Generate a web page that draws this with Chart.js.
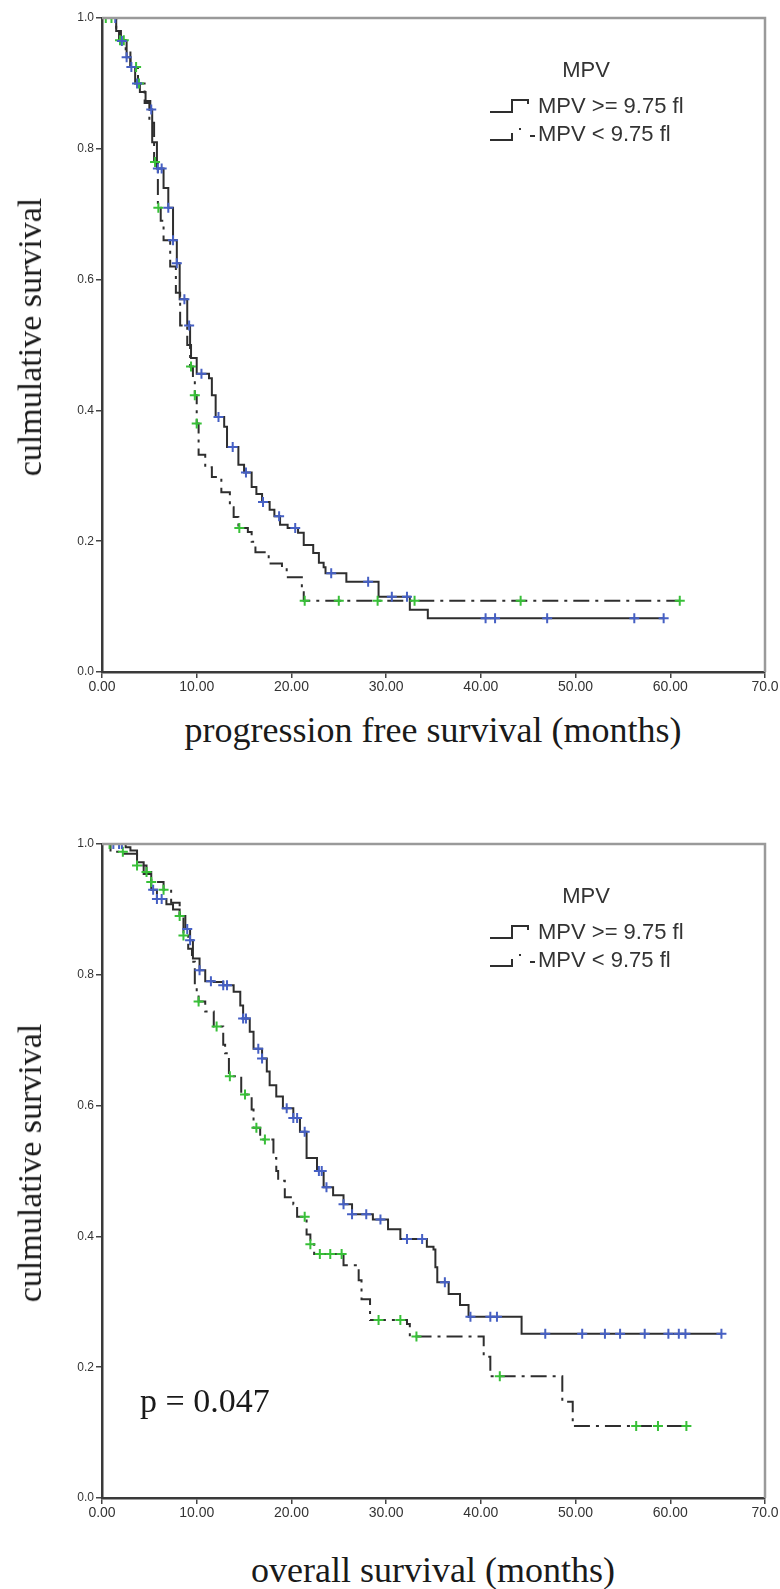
<!DOCTYPE html>
<html>
<head>
<meta charset="utf-8">
<script src="https://cdn.jsdelivr.net/npm/chart.js@4.4.1/dist/chart.umd.min.js"></script>
<style>
html, body { margin: 0; padding: 0; background: #fff; }
body { width: 780px; height: 1589px; position: relative; overflow: hidden; }
canvas { position: absolute; left: 0; }
.lbl { position: absolute; font-family: "Liberation Serif", "Times New Roman", serif; color: #1a1a1a; white-space: nowrap; line-height: 1; }
.ytitle { transform: translate(-50%, -50%) rotate(-90deg); }
.xtitle { transform: translate(-50%, -50%); }
</style>
</head>
<body>
<canvas id="pfs" width="780" height="700" style="top:0"></canvas>
<canvas id="os" width="780" height="700" style="top:826px"></canvas>

<div class="lbl ytitle" style="left:30px; top:337px; font-size:34px;">culmulative survival</div>
<div class="lbl xtitle" style="left:433px; top:730px; font-size:36px;">progression free survival (months)</div>
<div class="lbl ytitle" style="left:30px; top:1163px; font-size:34px;">culmulative survival</div>
<div class="lbl xtitle" style="left:433px; top:1570px; font-size:36px;">overall survival (months)</div>
<div class="lbl" id="pval" style="left:140px; top:1384px; font-size:34px;">p = 0.047</div>

<script>
// --- ticks / labels ---
const xTickLabels = ['0.00', '10.00', '20.00', '30.00', '40.00', '50.00', '60.00', '70.0'];
const yTickLabels = ['0.0', '0.2', '0.4', '0.6', '0.8', '1.0'];
const legendTitle = 'MPV';
const legendLabels = ['MPV >= 9.75 fl', 'MPV < 9.75 fl'];

// --- progression free survival ---
// MPV >= 9.75 fl
const pfsHighTime = [0, 1.5, 2.0, 2.6, 3.0, 3.5, 4.0, 4.6, 5.1, 5.3, 5.8, 6.5, 7.0, 7.5, 7.9, 8.2, 9.0, 9.3, 9.4, 10.0, 11.3, 11.6, 12.0, 12.9, 13.2, 14.4, 15.0, 15.8, 16.3, 16.9, 17.7, 18.2, 18.8, 19.6, 20.7, 21.3, 22.3, 22.9, 23.4, 23.6, 25.8, 29.2, 32.5, 34.4, 59.3];
const pfsHighSurv = [1.0, 0.98, 0.965, 0.94, 0.925, 0.90, 0.887, 0.873, 0.86, 0.81, 0.77, 0.74, 0.71, 0.66, 0.625, 0.57, 0.53, 0.50, 0.48, 0.456, 0.449, 0.423, 0.39, 0.375, 0.344, 0.317, 0.305, 0.283, 0.272, 0.26, 0.248, 0.238, 0.225, 0.22, 0.213, 0.194, 0.182, 0.167, 0.16, 0.151, 0.138, 0.115, 0.095, 0.082, 0.082];
const pfsHighCensor = [1.4, 2.1, 2.6, 3.1, 3.7, 5.2, 5.9, 6.3, 7.0, 7.5, 7.9, 8.7, 9.2, 10.5, 12.3, 13.8, 15.2, 17.0, 18.7, 20.4, 24.2, 28.1, 30.6, 32.2, 40.5, 41.5, 47.0, 56.2, 59.3];
// MPV < 9.75 fl
const pfsLowTime = [0, 1.5, 1.8, 2.5, 3.0, 3.8, 4.5, 5.0, 5.5, 5.9, 6.2, 6.5, 7.2, 7.8, 8.25, 9.0, 9.3, 9.6, 9.8, 10.0, 10.2, 10.9, 11.6, 12.6, 13.5, 13.9, 14.4, 15.4, 15.8, 16.2, 17.6, 19.0, 19.5, 21.1, 21.3, 61.0];
const pfsLowSurv = [1.0, 0.983, 0.966, 0.95, 0.925, 0.90, 0.87, 0.84, 0.78, 0.71, 0.69, 0.66, 0.62, 0.58, 0.53, 0.50, 0.467, 0.45, 0.423, 0.38, 0.332, 0.313, 0.298, 0.275, 0.252, 0.237, 0.22, 0.214, 0.199, 0.183, 0.166, 0.159, 0.145, 0.122, 0.109, 0.109];
const pfsLowCensor = [0.4, 1.0, 1.9, 2.3, 3.6, 3.9, 5.6, 5.95, 9.4, 9.8, 10.0, 14.5, 21.4, 25.0, 29.1, 33.0, 44.2, 61.0];

// --- overall survival ---
const osHighTime = [0, 2.5, 3.0, 3.7, 4.4, 5.2, 5.8, 6.8, 7.5, 8.2, 8.8, 9.3, 9.6, 10.3, 10.9, 11.8, 12.8, 13.9, 14.6, 14.9, 15.6, 16.0, 16.9, 17.4, 17.7, 18.4, 19.1, 20.2, 20.9, 21.6, 22.7, 23.4, 24.4, 25.5, 26.4, 28.6, 30.2, 31.5, 34.3, 35.0, 35.2, 35.4, 36.6, 37.8, 38.7, 44.3, 65.4];
const osHighSurv = [1.0, 0.995, 0.99, 0.972, 0.954, 0.93, 0.916, 0.908, 0.90, 0.89, 0.87, 0.853, 0.825, 0.807, 0.79, 0.789, 0.784, 0.774, 0.753, 0.733, 0.713, 0.687, 0.672, 0.652, 0.631, 0.614, 0.596, 0.581, 0.56, 0.52, 0.50, 0.475, 0.463, 0.449, 0.434, 0.426, 0.411, 0.396, 0.384, 0.38, 0.353, 0.33, 0.312, 0.295, 0.277, 0.251, 0.251];
const osHighCensor = [1.2, 1.8, 2.1, 5.4, 5.8, 6.3, 9.0, 9.3, 10.3, 11.5, 12.8, 13.2, 14.9, 15.2, 16.5, 16.9, 19.5, 20.2, 20.6, 21.4, 22.9, 23.2, 23.7, 25.5, 26.4, 27.9, 29.4, 32.2, 33.8, 36.2, 38.9, 41.0, 41.7, 46.8, 50.7, 53.1, 54.7, 57.3, 59.8, 60.9, 61.6, 65.4];
const osLowTime = [0, 0.9, 2.3, 3.7, 4.7, 5.2, 6.5, 7.3, 8.2, 8.6, 9.1, 9.5, 9.8, 10.0, 10.2, 10.9, 11.8, 12.8, 13.0, 13.4, 14.7, 15.8, 16.0, 16.7, 18.1, 18.4, 18.6, 19.3, 20.2, 20.6, 21.6, 22.0, 22.4, 25.5, 27.1, 27.4, 28.3, 32.2, 32.5, 40.3, 41.0, 48.6, 49.7, 61.7];
const osLowSurv = [1.0, 0.988, 0.985, 0.967, 0.957, 0.942, 0.93, 0.91, 0.89, 0.86, 0.84, 0.82, 0.784, 0.774, 0.759, 0.744, 0.721, 0.693, 0.68, 0.645, 0.617, 0.594, 0.566, 0.548, 0.52, 0.50, 0.485, 0.46, 0.449, 0.43, 0.403, 0.388, 0.373, 0.356, 0.333, 0.304, 0.272, 0.266, 0.247, 0.216, 0.186, 0.147, 0.11, 0.11];
const osLowCensor = [0.8, 2.2, 3.7, 4.7, 5.2, 6.5, 8.2, 8.6, 10.2, 12.1, 13.5, 15.1, 16.3, 17.2, 21.4, 22.0, 23.0, 24.1, 25.3, 29.2, 31.5, 33.2, 42.0, 56.4, 58.7, 61.7];

const lineColor = '#2e2e2e';
const highMark = '#4660c4';
const lowMark = '#38c038';

Chart.defaults.font.family = '"Liberation Sans", Arial, sans-serif';
Chart.defaults.color = '#333';

// survival level at time t (value after any step at t)
function survAt(times, surv, t) {
    let s = surv[0];
    for (let i = 0; i < times.length; i++) {
        if (times[i] <= t) s = surv[i];
    }
    return s;
}

const toPoints = (times, surv) => times.map((t, i) => ({ x: t, y: surv[i] }));
const toCensor = (cens, times, surv) => cens.map(t => ({ x: t, y: survAt(times, surv, t) }));

const frameAndLegend = {
    id: 'frameAndLegend',
    afterDraw(chart) {
        const { ctx, chartArea: a } = chart;
        ctx.save();
        // grey top/right frame
        ctx.strokeStyle = '#9a9a9a';
        ctx.lineWidth = 2.5;
        ctx.beginPath();
        ctx.moveTo(a.left, a.top);
        ctx.lineTo(a.right, a.top);
        ctx.lineTo(a.right, a.bottom);
        ctx.stroke();

        // legend
        const x0 = a.left + 388, tx = a.left + 436;
        const y1 = a.top + 89, y2 = a.top + 117;
        ctx.fillStyle = '#333';
        ctx.font = '22px "Liberation Sans", Arial, sans-serif';
        ctx.textBaseline = 'middle';
        ctx.textAlign = 'center';
        ctx.fillText(legendTitle, a.left + 484, a.top + 53);
        ctx.textAlign = 'left';
        ctx.fillText(legendLabels[0], tx, y1);
        ctx.fillText(legendLabels[1], tx, y2);

        ctx.strokeStyle = lineColor;
        ctx.lineWidth = 2;
        ctx.beginPath();
        ctx.moveTo(x0, y1 + 5); ctx.lineTo(x0 + 22, y1 + 5); ctx.lineTo(x0 + 22, y1 - 7);
        ctx.lineTo(x0 + 38, y1 - 7); ctx.lineTo(x0 + 38, y1 - 3);
        ctx.stroke();
        ctx.beginPath();
        ctx.moveTo(x0, y2 + 5); ctx.lineTo(x0 + 22, y2 + 5); ctx.lineTo(x0 + 22, y2 - 2);
        ctx.stroke();
        ctx.fillRect(x0 + 29, y2 - 7, 2, 2);
        ctx.beginPath();
        ctx.moveTo(x0 + 40, y2 + 1); ctx.lineTo(x0 + 45, y2 + 1);
        ctx.stroke();
        ctx.restore();
    }
};

function makeKM(canvasId, highT, highS, highC, lowT, lowS, lowC) {
    return new Chart(document.getElementById(canvasId), {
        type: 'scatter',
        data: {
            datasets: [
                {
                    data: toCensor(highC, highT, highS), order: 0,
                    pointStyle: 'cross', pointRadius: 5, borderColor: highMark, borderWidth: 2
                },
                {
                    data: toCensor(lowC, lowT, lowS), order: 0,
                    pointStyle: 'cross', pointRadius: 5, borderColor: lowMark, borderWidth: 2
                },
                {
                    data: toPoints(highT, highS), order: 1, showLine: true, stepped: true,
                    pointRadius: 0, borderColor: lineColor, borderWidth: 2
                },
                {
                    data: toPoints(lowT, lowS), order: 1, showLine: true, stepped: true,
                    pointRadius: 0, borderColor: lineColor, borderWidth: 2, borderDash: [16, 6, 3, 6]
                }
            ]
        },
        options: {
            responsive: false,
            animation: false,
            events: [],
            layout: { padding: { top: 18, right: 15, left: 0, bottom: 0 } },
            plugins: { legend: { display: false }, tooltip: { enabled: false } },
            scales: {
                x: {
                    type: 'linear', min: 0, max: 70,
                    afterFit: s => { s.height = 28; },
                    ticks: {
                        stepSize: 10, autoSkip: false, maxRotation: 0, padding: 1,
                        font: { size: 14 }, color: '#333',
                        callback: (v, i) => xTickLabels[i]
                    },
                    grid: { drawOnChartArea: false, drawTicks: true, tickLength: 6, color: '#444', lineWidth: 1.5 },
                    border: { display: true, color: '#3a3a3a', width: 2.5 }
                },
                y: {
                    type: 'linear', min: 0, max: 1,
                    afterFit: s => { s.width = 102; },
                    ticks: {
                        stepSize: 0.2, padding: 2,
                        font: { size: 12 }, color: '#333',
                        callback: (v, i) => yTickLabels[i]
                    },
                    grid: { drawOnChartArea: false, drawTicks: true, tickLength: 6, color: '#444', lineWidth: 1.5 },
                    border: { display: true, color: '#3a3a3a', width: 2.5 }
                }
            }
        },
        plugins: [frameAndLegend]
    });
}

makeKM('pfs', pfsHighTime, pfsHighSurv, pfsHighCensor, pfsLowTime, pfsLowSurv, pfsLowCensor);
makeKM('os', osHighTime, osHighSurv, osHighCensor, osLowTime, osLowSurv, osLowCensor);
</script>
</body>
</html>
